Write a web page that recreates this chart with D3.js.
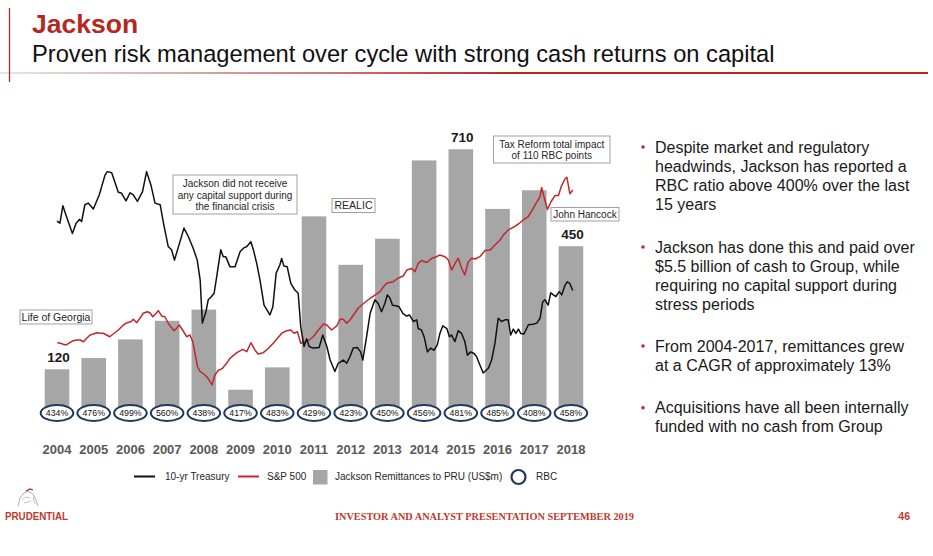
<!DOCTYPE html>
<html>
<head>
<meta charset="utf-8">
<script src="https://cdn.jsdelivr.net/npm/d3@7"></script>
<style>
  html, body { margin: 0; padding: 0; background: #fff; }
  svg { display: block; font-family: "Liberation Sans", Arial, sans-serif; }
</style>
</head>
<body>
<svg id="chart" width="933" height="556"></svg>
<script>
// ---------------- DATA ----------------
const years = [2004, 2005, 2006, 2007, 2008, 2009, 2010, 2011, 2012, 2013, 2014, 2015, 2016, 2017, 2018];
const remittances = [120, 150, 200, 250, 280, 65, 125, 530, 400, 470, 680, 710, 550, 600, 450];
const rbcRatios = [434, 476, 499, 560, 438, 417, 483, 429, 423, 450, 456, 481, 485, 408, 458];
const labeledYears = [2004, 2015, 2018];

// 10-yr Treasury yield (%) [time, value]
const treasury = [
[2004.00,4.18],[2004.08,4.14],[2004.16,4.46],[2004.26,4.26],[2004.42,3.95],[2004.52,4.14],[2004.61,4.21],[2004.67,4.17],
[2004.76,4.48],[2004.85,4.51],[2004.99,4.40],[2005.15,4.66],[2005.31,5.03],[2005.37,5.09],[2005.49,5.07],[2005.67,4.71],
[2005.76,4.69],[2005.88,4.55],[2005.99,4.70],[2006.08,4.66],[2006.19,4.54],[2006.33,4.72],[2006.44,5.09],[2006.56,4.84],
[2006.67,4.51],[2006.81,4.48],[2006.91,4.11],[2007.03,3.71],[2007.12,3.65],[2007.20,3.46],[2007.35,3.80],[2007.46,4.05],
[2007.58,3.89],[2007.71,3.68],[2007.82,3.46],[2007.90,3.09],[2007.96,2.30],[2008.06,2.52],[2008.12,2.73],[2008.21,2.79],
[2008.28,2.85],[2008.35,3.15],[2008.46,3.65],[2008.53,3.52],[2008.60,3.52],[2008.71,3.34],[2008.85,3.34],[2008.99,3.62],
[2009.08,3.68],[2009.17,3.71],[2009.28,3.80],[2009.35,3.65],[2009.44,3.40],[2009.53,3.09],[2009.64,2.63],[2009.80,2.45],
[2009.88,2.60],[2009.97,3.22],[2010.07,3.37],[2010.12,3.49],[2010.18,3.35],[2010.27,3.34],[2010.37,3.03],[2010.48,2.91],
[2010.57,2.85],[2010.64,2.23],[2010.73,1.87],[2010.80,2.01],[2010.87,1.87],[2010.98,1.84],[2011.14,1.85],[2011.24,2.08],
[2011.35,1.87],[2011.44,1.62],[2011.57,1.41],[2011.66,1.56],[2011.80,1.62],[2011.89,1.56],[2011.98,1.68],[2012.07,1.84],
[2012.18,1.85],[2012.27,1.77],[2012.33,1.62],[2012.42,1.99],[2012.53,2.48],[2012.66,2.73],[2012.75,2.66],[2012.84,2.51],
[2012.93,2.66],[2013.00,2.82],[2013.07,2.76],[2013.14,2.63],[2013.23,2.62],[2013.32,2.60],[2013.42,2.48],[2013.52,2.43],
[2013.60,2.45],[2013.71,2.33],[2013.80,2.36],[2013.84,2.20],[2013.93,2.17],[2014.00,2.05],[2014.09,1.77],[2014.18,1.84],
[2014.27,1.80],[2014.36,1.90],[2014.43,2.11],[2014.51,2.25],[2014.62,2.20],[2014.69,2.05],[2014.75,2.08],[2014.84,1.96],
[2014.93,2.16],[2015.02,2.11],[2015.11,1.96],[2015.18,1.71],[2015.27,1.77],[2015.36,1.74],[2015.43,1.68],[2015.50,1.56],
[2015.61,1.38],[2015.75,1.47],[2015.84,1.62],[2015.93,1.93],[2016.02,2.39],[2016.11,2.33],[2016.20,2.36],[2016.29,2.36],
[2016.36,2.08],[2016.43,2.19],[2016.50,2.11],[2016.57,2.19],[2016.63,2.11],[2016.72,2.10],[2016.84,2.27],[2016.97,2.28],
[2017.07,2.30],[2017.16,2.39],[2017.23,2.69],[2017.29,2.73],[2017.38,2.63],[2017.45,2.86],[2017.52,2.82],[2017.59,2.79],
[2017.68,2.88],[2017.75,2.82],[2017.84,3.00],[2017.90,3.06],[2017.97,3.03],[2018.05,2.90]
];

// S&P 500 index level [time, value]
const sp500 = [
[2004.01,1175],[2004.10,1169],[2004.17,1158],[2004.25,1151],[2004.35,1175],[2004.44,1196],[2004.54,1203],[2004.63,1203],
[2004.72,1185],[2004.81,1221],[2004.90,1255],[2004.99,1265],[2005.08,1279],[2005.17,1273],[2005.26,1273],[2005.35,1255],
[2005.44,1237],[2005.53,1265],[2005.67,1307],[2005.81,1359],[2005.91,1383],[2006.01,1393],[2006.08,1418],[2006.17,1383],
[2006.24,1418],[2006.35,1481],[2006.46,1497],[2006.53,1487],[2006.61,1445],[2006.70,1481],[2006.76,1508],[2006.85,1453],
[2006.94,1445],[2007.03,1377],[2007.10,1341],[2007.19,1300],[2007.26,1325],[2007.33,1359],[2007.42,1307],[2007.53,1237],
[2007.62,1255],[2007.70,1185],[2007.76,1065],[2007.83,922],[2007.90,873],[2007.99,852],[2008.08,821],[2008.17,769],
[2008.22,735],[2008.30,839],[2008.39,886],[2008.51,908],[2008.62,960],[2008.71,1012],[2008.90,1071],[2009.06,1106],
[2009.17,1081],[2009.28,1175],[2009.39,1099],[2009.48,1057],[2009.62,1071],[2009.76,1117],[2009.89,1169],[2009.99,1213],
[2010.12,1273],[2010.26,1300],[2010.37,1307],[2010.46,1273],[2010.55,1289],[2010.64,1169],[2010.76,1185],[2010.87,1203],
[2010.98,1237],[2011.12,1307],[2011.26,1369],[2011.35,1359],[2011.48,1307],[2011.62,1349],[2011.71,1418],[2011.80,1418],
[2011.89,1377],[2011.98,1411],[2012.11,1481],[2012.20,1533],[2012.30,1567],[2012.41,1601],[2012.53,1637],[2012.66,1671],
[2012.80,1706],[2012.89,1754],[2012.98,1793],[2013.16,1810],[2013.30,1848],[2013.43,1869],[2013.53,1931],[2013.66,1947],
[2013.75,1914],[2013.84,2001],[2013.93,2030],[2014.07,2009],[2014.21,2053],[2014.34,2070],[2014.43,2087],[2014.57,2070],
[2014.66,2035],[2014.75,1931],[2014.87,2018],[2014.93,2053],[2015.02,1952],[2015.11,1879],[2015.20,2015],[2015.30,2053],
[2015.39,2046],[2015.52,2070],[2015.66,2134],[2015.80,2139],[2015.93,2191],[2016.07,2243],[2016.16,2296],[2016.29,2348],
[2016.43,2376],[2016.57,2410],[2016.70,2452],[2016.84,2488],[2016.97,2571],[2017.07,2639],[2017.16,2694],[2017.20,2790],
[2017.29,2660],[2017.36,2561],[2017.46,2644],[2017.57,2707],[2017.66,2707],[2017.74,2805],[2017.84,2881],[2017.89,2896],
[2017.97,2725],[2018.05,2764]
];

const bullets = [
  ["Despite market and regulatory", "headwinds, Jackson has reported a", "RBC ratio above 400% over the last", "15 years"],
  ["Jackson has done this and paid over", "$5.5 billion of cash to Group, while", "requiring no capital support during", "stress periods"],
  ["From 2004-2017, remittances grew", "at a CAGR of approximately 13%"],
  ["Acquisitions have all been internally", "funded with no cash from Group"]
];

const legendItems = ["10-yr Treasury", "S&P 500", "Jackson Remittances to PRU (US$m)", "RBC"];

// ---------------- DRAWING ----------------
const svg = d3.select("#chart");
const RED = "#b5281f";
const LINE_RED = "#c0282d";
const BAR = "#a6a6a6";
const NAVY = "#1f3a5c";

// Header
const defs = svg.append("defs");
const grad = defs.append("linearGradient").attr("id", "hdr").attr("x1", "0%").attr("x2", "100%");
grad.append("stop").attr("offset", "0%").attr("stop-color", "#e6e6e6");
grad.append("stop").attr("offset", "35%").attr("stop-color", "#cf7a74");
grad.append("stop").attr("offset", "55%").attr("stop-color", RED);
grad.append("stop").attr("offset", "100%").attr("stop-color", RED);

svg.append("rect").attr("x", 0).attr("y", 72).attr("width", 928).attr("height", 2).attr("fill", "url(#hdr)");
svg.append("line").attr("x1", 9.5).attr("x2", 9.5).attr("y1", 8).attr("y2", 82)
  .attr("stroke", RED).attr("stroke-width", 1.3);

svg.append("text").attr("x", 32).attr("y", 33).text("Jackson")
  .attr("fill", RED).attr("font-size", 26.5).attr("font-weight", "bold");
svg.append("text").attr("x", 32).attr("y", 62)
  .text("Proven risk management over cycle with strong cash returns on capital")
  .attr("fill", "#111").attr("font-size", 23.7);

// Scales
const x = d3.scaleBand().domain(years).range([38.64, 589.3]).paddingInner(0.33).paddingOuter(0.165);
const xc = d => x(d) + x.bandwidth() / 2;
const yBar = d3.scaleLinear().domain([0, 1000]).range([414, 41.1]);
const xt = d3.scaleLinear().domain([2004, 2018]).range([xc(2004), xc(2018)]);
const yT = d3.scaleLinear().domain([0, 5]).range([448, 176.5]);
const yS = d3.scaleLinear().domain([0, 3000]).range([455.6, 167.3]);

const barData = years.map((y, i) => ({year: y, value: remittances[i], rbc: rbcRatios[i]}));

// Bars
svg.append("g").selectAll("rect").data(barData).join("rect")
  .attr("x", d => x(d.year)).attr("width", x.bandwidth())
  .attr("y", d => yBar(d.value)).attr("height", d => yBar(0) - yBar(d.value))
  .attr("fill", BAR);

// Lines
const lineT = d3.line().x(d => xt(d[0])).y(d => yT(d[1]));
const lineS = d3.line().x(d => xt(d[0])).y(d => yS(d[1]));
svg.append("path").datum(sp500).attr("d", lineS).attr("fill", "none")
  .attr("stroke", LINE_RED).attr("stroke-width", 1.5).attr("stroke-linejoin", "round");
svg.append("path").datum(treasury).attr("d", lineT).attr("fill", "none")
  .attr("stroke", "#111").attr("stroke-width", 1.5).attr("stroke-linejoin", "round");

// Bar value labels
svg.append("g").selectAll("text").data(barData.filter(d => labeledYears.includes(d.year))).join("text")
  .attr("x", d => xc(d.year) + 1.5).attr("y", d => yBar(d.value) - 7.5)
  .attr("text-anchor", "middle").attr("font-size", 13.5).attr("font-weight", "bold")
  .attr("fill", "#1a1a1a").text(d => d.value);

// RBC ovals
const ov = svg.append("g").selectAll("g").data(barData).join("g")
  .attr("transform", d => `translate(${xc(d.year)},413)`);
ov.append("ellipse").attr("rx", 16.3).attr("ry", 8).attr("fill", "#fff")
  .attr("stroke", NAVY).attr("stroke-width", 2);
ov.append("text").attr("text-anchor", "middle").attr("y", 3.2).attr("font-size", 8.8)
  .attr("fill", "#111").text(d => d.rbc + "%");

// Year labels
svg.append("g").selectAll("text").data(years).join("text")
  .attr("x", d => xc(d)).attr("y", 454).attr("text-anchor", "middle")
  .attr("font-size", 13).attr("font-weight", "bold").attr("fill", "#595959").text(d => d);

// Annotation boxes
function box(bx, by, bw, bh, lines, fs, lh, base) {
  const g = svg.append("g");
  g.append("rect").attr("x", bx).attr("y", by).attr("width", bw).attr("height", bh)
    .attr("fill", "#fff").attr("stroke", "#a0a0a0").attr("stroke-width", 1);
  lines.forEach((t, i) => g.append("text").attr("x", bx + bw / 2).attr("y", base + i * lh)
    .attr("text-anchor", "middle").attr("font-size", fs).attr("fill", "#262626").text(t));
}
box(173, 175, 124, 39, ["Jackson did not receive", "any capital support during", "the financial crisis"], 10, 11.5, 187);
box(332, 198.5, 43, 14, ["REALIC"], 10.5, 0, 209.3);
box(493.5, 136, 116.5, 27, ["Tax Reform total impact", "of 110 RBC points"], 10, 11.5, 147.5);
box(551, 207.5, 68, 13.5, ["John Hancock"], 10, 0, 218);
box(20, 310, 72, 14, ["Life of Georgia"], 10.5, 0, 321);

// Legend
const lg = svg.append("g").attr("font-size", 10).attr("fill", "#262626");
lg.append("line").attr("x1", 134).attr("x2", 155).attr("y1", 476.5).attr("y2", 476.5).attr("stroke", "#111").attr("stroke-width", 2);
lg.append("text").attr("x", 165).attr("y", 480).text(legendItems[0]);
lg.append("line").attr("x1", 238).attr("x2", 259).attr("y1", 476.5).attr("y2", 476.5).attr("stroke", LINE_RED).attr("stroke-width", 2);
lg.append("text").attr("x", 267).attr("y", 480).text(legendItems[1]);
lg.append("rect").attr("x", 313).attr("y", 470).attr("width", 14.5).attr("height", 14.5).attr("fill", BAR);
lg.append("text").attr("x", 335).attr("y", 480).text(legendItems[2]);
lg.append("circle").attr("cx", 518.5).attr("cy", 477).attr("r", 7).attr("fill", "#fff").attr("stroke", NAVY).attr("stroke-width", 2.2);
lg.append("text").attr("x", 536).attr("y", 480).text(legendItems[3]);

// Bullets
const bg = svg.append("g");
const bulletTops = [152.5, 252.5, 351.5, 413.3];
bullets.forEach((lines, i) => {
  bg.append("circle").attr("cx", 643).attr("cy", bulletTops[i] - 5.5).attr("r", 1.8).attr("fill", "#c0282d");
  lines.forEach((t, j) => bg.append("text").attr("x", 655).attr("y", bulletTops[i] + j * 19)
    .attr("font-size", 16).attr("fill", "#1a1a1a").text(t));
});

// Footer
const lgG = svg.append("g").attr("fill", "none").attr("stroke-width", 0.8);
lgG.append("path").attr("d", "M18,506 L20,498 L24,493 L28,491 L33,494 L36,500 L38,506").attr("stroke", "#9a9a9a");
lgG.append("path").attr("d", "M22,500 L26,497 L30,498 M24,503 L31,501 M33,497 L35,504").attr("stroke", "#b0b0b0");
lgG.append("path").attr("d", "M26,491 L30,489 L33,490").attr("stroke", RED).attr("stroke-width", 1.2);
svg.append("text").attr("x", 5).attr("y", 520).attr("font-size", 10.5).attr("font-weight", "bold")
  .attr("fill", "#c0392b").attr("textLength", 63).attr("lengthAdjust", "spacingAndGlyphs").text("PRUDENTIAL");
svg.append("text").attr("x", 335).attr("y", 520).attr("font-size", 10.5).attr("font-weight", "bold")
  .attr("font-family", "Liberation Serif, serif")
  .attr("fill", "#c0392b").attr("textLength", 299).attr("lengthAdjust", "spacingAndGlyphs")
  .text("INVESTOR AND ANALYST PRESENTATION SEPTEMBER 2019");
svg.append("text").attr("x", 910).attr("y", 520).attr("text-anchor", "end").attr("font-size", 10.5).attr("font-weight", "bold")
  .attr("fill", "#c0392b").text("46");
</script>
</body>
</html>
